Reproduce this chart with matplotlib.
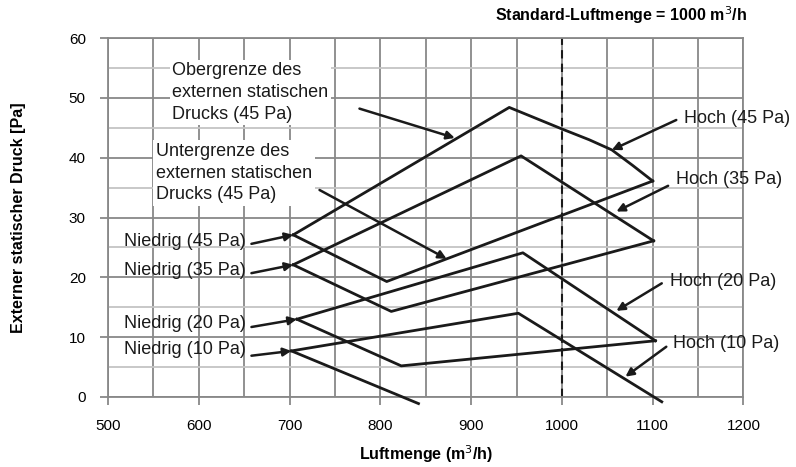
import matplotlib
matplotlib.use("Agg")
from matplotlib import pyplot as plt
import numpy as np

plt.rcParams['font.family'] = ['Liberation Sans', 'DejaVu Sans']

# 45 Pa: upper / lower envelope
upper_45_x = [704, 942, 1000, 1030, 1055, 1078, 1100]
upper_45_y = [27.1, 48.4, 44.8, 43.0, 41.3, 38.7, 36.1]
lower_45_x = [704, 807, 1100]
lower_45_y = [27.1, 19.3, 36.1]

# 35 Pa
upper_35_x = [704, 955, 1101]
upper_35_y = [22.1, 40.3, 26.1]
lower_35_x = [704, 812, 1101]
lower_35_y = [22.1, 14.3, 26.1]

# 20 Pa
upper_20_x = [708, 957, 1103]
upper_20_y = [13.0, 24.1, 9.4]
lower_20_x = [708, 823, 1103]
lower_20_y = [13.0, 5.2, 9.4]

# 10 Pa
upper_10_x = [702, 952, 1110]
upper_10_y = [7.7, 14.0, -0.8]
lower_10_x = [702, 842]
lower_10_y = [7.7, -1.1]

standard_flow = 1000

# (text, text x, text y, arrow tip x, arrow tip y, arrow tail x, arrow tail y, ha)
labels = [
    ("Niedrig (45 Pa)", 652, 26.0, 704, 27.1, 658, 25.6, "right"),
    ("Niedrig (35 Pa)", 652, 21.2, 704, 22.1, 658, 20.7, "right"),
    ("Niedrig (20 Pa)", 652, 12.3, 708, 13.0, 658, 11.7, "right"),
    ("Niedrig (10 Pa)", 652, 7.9, 702, 7.7, 658, 6.9, "right"),
    ("Hoch (45 Pa)", 1135, 46.6, 1055, 41.3, 1126, 46.3, "left"),
    ("Hoch (35 Pa)", 1126, 36.3, 1060, 31.0, 1117, 35.3, "left"),
    ("Hoch (20 Pa)", 1119, 19.3, 1060, 14.4, 1110, 19.0, "left"),
    ("Hoch (10 Pa)", 1122, 9.0, 1070, 3.4, 1115, 8.4, "left"),
]

boxed = [
    ("Obergrenze des\nexternen statischen\nDrucks (45 Pa)", 571, 50.9, 882, 43.3, 777, 48.2),
    ("Untergrenze des\nexternen statischen\nDrucks (45 Pa)", 553, 37.4, 873, 23.1, 733, 34.6),
]

fig = plt.figure(figsize=(7.96, 4.67), dpi=100)
ax = fig.add_axes([0.1357, 0.1499, 0.7983, 0.7687])

ax.set_xlim(500, 1200)
ax.set_ylim(0, 60)
ax.set_xticks(np.arange(500, 1201, 100))
ax.set_yticks(np.arange(0, 61, 10))
ax.set_xticks(np.arange(550, 1200, 100), minor=True)
ax.set_yticks(np.arange(5, 60, 10), minor=True)

ax.grid(which='major', color='#888888', linewidth=1.3)
ax.grid(which='minor', axis='x', color='#888888', linewidth=1.3)
ax.grid(which='minor', axis='y', color='#c4c4c4', linewidth=1.3)
ax.tick_params(which='minor', length=0)
ax.tick_params(which='major', direction='out', length=6, color='#888888',
               width=1.3, labelsize=11, pad=10)
ax.set_axisbelow(True)
for s in ax.spines.values():
    s.set_color('#888888')
    s.set_linewidth(1.3)

ax.axvline(standard_flow, color='#1a1a1a', linestyle=(0, (4, 2.5)), linewidth=1.5, zorder=2)

line_kw = dict(color='#1a1a1a', linewidth=2.0, clip_on=False, zorder=3)
for xs, ys in [(upper_45_x, upper_45_y), (lower_45_x, lower_45_y),
               (upper_35_x, upper_35_y), (lower_35_x, lower_35_y),
               (upper_20_x, upper_20_y), (lower_20_x, lower_20_y),
               (upper_10_x, upper_10_y), (lower_10_x, lower_10_y)]:
    ax.plot(xs, ys, **line_kw)

arrow_kw = dict(arrowstyle='-|>', color='#1a1a1a', lw=1.8, mutation_scale=12,
                shrinkA=0, shrinkB=0)

for txt, tx, ty, px, py, ax0, ay0, ha in labels:
    ax.text(tx, ty, txt, ha=ha, va='center', fontsize=13, color='#1a1a1a',
            zorder=5, clip_on=False)
    ax.annotate("", xy=(px, py), xytext=(ax0, ay0), arrowprops=arrow_kw,
                zorder=4, annotation_clip=False)

for txt, tx, ty, px, py, ax0, ay0 in boxed:
    ax.text(tx, ty, txt, ha='left', va='center', fontsize=13, color='#1a1a1a',
            linespacing=1.35, zorder=5,
            bbox=dict(facecolor='white', edgecolor='none', pad=2))
    ax.annotate("", xy=(px, py), xytext=(ax0, ay0), arrowprops=arrow_kw, zorder=4)

ax.set_xlabel("Luftmenge (m$^3$/h)", fontsize=11.5, fontweight='bold', labelpad=7)
ax.set_ylabel("Externer statischer Druck [Pa]", fontsize=11.5, fontweight='bold', labelpad=31)
fig.text(0.938, 0.967, "Standard-Luftmenge = 1000 m$^3$/h", ha='right', va='center',
         fontsize=11.5, fontweight='bold')

fig.savefig("out.png", dpi=100)
